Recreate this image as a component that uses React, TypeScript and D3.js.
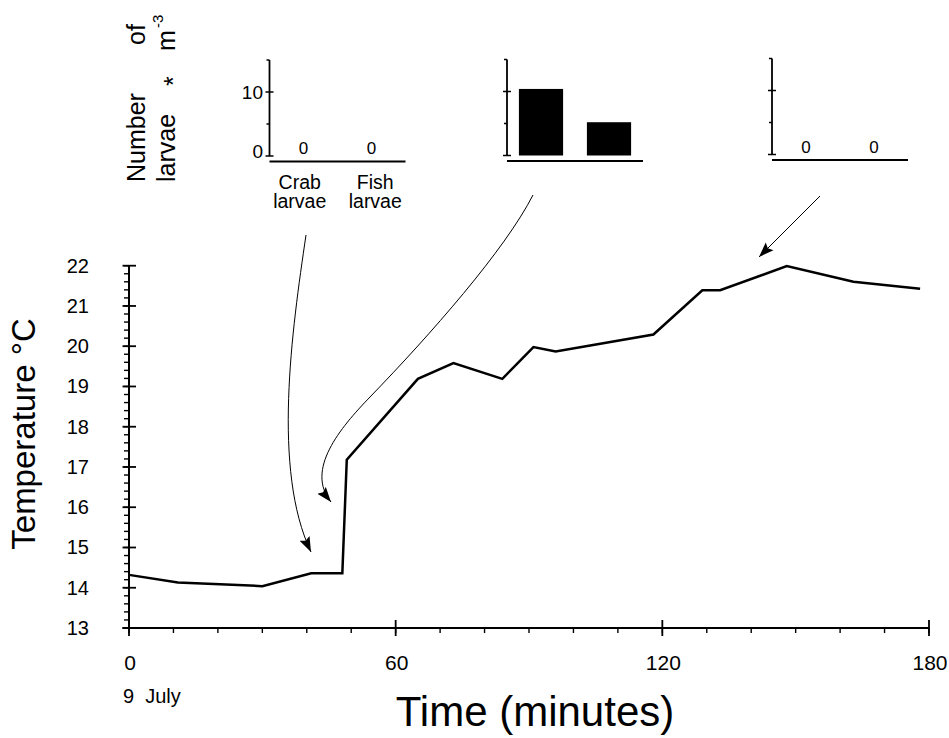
import React from 'react';
import * as d3 from 'd3';

// temperature record, 9 July
const timeMin = [0, 11, 30, 41, 48, 49, 65, 73, 84, 91, 96, 118, 129, 133, 148, 163, 178];
const tempC = [14.32, 14.13, 14.04, 14.36, 14.36, 17.18, 19.19, 19.58, 19.19, 19.98, 19.87, 20.29, 21.39, 21.39, 21.99, 21.6, 21.43];

// larvae catches for the three inset samples
const larvaeCats = ['Crab larvae', 'Fish larvae'];
const sampleCrab = [0, 10.4, 0];
const sampleFish = [0, 5.2, 0];
const xTicks = [0, 60, 120, 180];
const yTicks = [13, 14, 15, 16, 17, 18, 19, 20, 21, 22];

const W = 949;
const H = 738;
const FONT = '"Liberation Sans", Arial, Helvetica, sans-serif';

const x = d3.scaleLinear().domain([0, 180]).range([129, 929]);
const y = d3.scaleLinear().domain([13, 22]).range([628, 265.7]);

const insetPos = [
  { left: 269.5, top: 60 },
  { left: 507, top: 59.5 },
  { left: 772, top: 58.5 },
];

const Inset = ({ idx, left, top }: { idx: number; left: number; top: number }) => {
  const iy = d3.scaleLinear().domain([0, 15]).range([96, 0]);
  const ix = d3.scaleBand().domain(larvaeCats).range([0, 136]).paddingInner(0.35).paddingOuter(0.175);
  const lx = d3.scalePoint().domain(larvaeCats).range([0, 136]).padding(0.4);
  const vals = [sampleCrab[idx], sampleFish[idx]];
  return (
    <g transform={`translate(${left},${top})`}>
      {/* bars / zero labels */}
      {larvaeCats.map((c, i) =>
        vals[i] > 0 ? (
          <rect key={c} x={ix(c)} width={ix.bandwidth()} y={iy(vals[i])} height={iy(0) - iy(vals[i])} fill="#000" />
        ) : (
          <text key={c} x={(ix(c) || 0) + ix.bandwidth() / 2} y={iy(0) - 2} fontSize={17} textAnchor="middle" fontFamily={FONT}>
            0
          </text>
        )
      )}
      <line x1={0} x2={0} y1={iy(0)} y2={iy(15)} stroke="#000" strokeWidth={1.8} />
      {[0, 5, 10, 15].map((t) => (
        <line key={t} x1={t % 10 === 0 ? -4 : -3} x2={t % 10 === 0 ? 4 : 0} y1={iy(t)} y2={iy(t)} stroke="#000" strokeWidth={1.5} />
      ))}
      <line x1={0} x2={136} y1={iy(0) + 5.5} y2={iy(0) + 5.5} stroke="#000" strokeWidth={1.8} />
      {idx === 0 && (
        <g fontFamily={FONT} fontSize={19} textAnchor="end">
          {[0, 10].map((t) => (
            <text key={t} x={-6.5} y={iy(t) + (t === 0 ? 2 : 7)}>
              {t}
            </text>
          ))}
          {larvaeCats.map((c) => {
            const [a, b] = c.split(' ');
            return (
              <text key={c} x={lx(c)} textAnchor="middle" fontSize={19.5}>
                <tspan x={lx(c)} y={129}>{a}</tspan>
                <tspan x={lx(c)} y={148}>{b}</tspan>
              </text>
            );
          })}
        </g>
      )}
    </g>
  );
};

const Arrow = ({ d }: { d: string }) => (
  <path d={d} fill="none" stroke="#000" strokeWidth={1} markerEnd="url(#head)" />
);

export default function App() {
  const line = d3
    .line<number>()
    .x((_, i) => x(timeMin[i]))
    .y((t) => y(t));

  const xMinor = d3.range(0, 181, 10);
  const yMinor = d3.range(13, 22.01, 0.2);

  return (
    <svg width={W} height={H} style={{ position: 'absolute', left: 0, top: 0, background: '#fff' }}>
      <defs>
        <marker id="head" markerUnits="userSpaceOnUse" markerWidth={16} markerHeight={12} refX={15} refY={6} orient="auto">
          <path d="M0,0.5 L15,6 L0,11.5 L2.5,6 Z" fill="#000" />
        </marker>
      </defs>
      <rect width={W} height={H} fill="#fff" />

      {/* inset y label */}
      <g fontFamily={FONT} fontSize={25}>
        <g transform="translate(145,182) rotate(-90)">
          <text x={0}>Number</text>
          <text x={137}>of</text>
        </g>
        <g transform="translate(175,182) rotate(-90)">
          <text x={0}>larvae</text>
          <text x={96} dy={7}>*</text>
          <text x={131}>m</text>
          <text x={154} dy={-12} fontSize={15}>-3</text>
        </g>
      </g>

      {insetPos.map((p, i) => (
        <Inset key={i} idx={i} left={p.left} top={p.top} />
      ))}

      {/* annotation arrows */}
      <Arrow d="M306,235 C292,330 272,470 311,552" />
      <Arrow d="M533,195 C505,250 430,335 370,397 C340,428 305,470 331,502" />
      <Arrow d="M820,196 L759,257" />

      {/* axes */}
      <g stroke="#000">
        <line x1={x(0)} x2={x(0)} y1={y(13)} y2={y(22)} strokeWidth={2} />
        <line x1={x(0) - 6.5} x2={x(180)} y1={y(13)} y2={y(13)} strokeWidth={2} />
        {yMinor.map((t) => (
          <line key={t} x1={x(0) - 5} x2={x(0)} y1={y(t)} y2={y(t)} strokeWidth={1.4} />
        ))}
        {yTicks.map((t) => (
          <line key={t} x1={x(0) - 6.5} x2={x(0) + 7} y1={y(t)} y2={y(t)} strokeWidth={1.8} />
        ))}
        {xMinor.map((t) => (
          <line key={t} x1={x(t)} x2={x(t)} y1={y(13)} y2={y(13) + 5} strokeWidth={1.4} />
        ))}
        {xTicks.map((t) => (
          <line key={t} x1={x(t)} x2={x(t)} y1={y(13) - 8} y2={y(13) + 8} strokeWidth={1.8} />
        ))}
      </g>

      <g fontFamily={FONT} fontSize={20} textAnchor="end">
        {yTicks.map((t) => (
          <text key={t} x={89} y={y(t) + 7}>
            {t}
          </text>
        ))}
      </g>
      <g fontFamily={FONT} fontSize={21} textAnchor="middle">
        {xTicks.map((t) => (
          <text key={t} x={x(t) + 1} y={670}>
            {t}
          </text>
        ))}
      </g>
      <text x={123} y={703} fontFamily={FONT} fontSize={20} xmlSpace="preserve">
        9  July
      </text>

      <text x={535} y={726} fontFamily={FONT} fontSize={42} textAnchor="middle">
        Time (minutes)
      </text>
      <text transform="translate(35,434) rotate(-90)" fontFamily={FONT} fontSize={33} textAnchor="middle">
        Temperature °C
      </text>

      <path d={line(tempC) || ''} fill="none" stroke="#000" strokeWidth={2.5} strokeLinejoin="miter" />
    </svg>
  );
}
